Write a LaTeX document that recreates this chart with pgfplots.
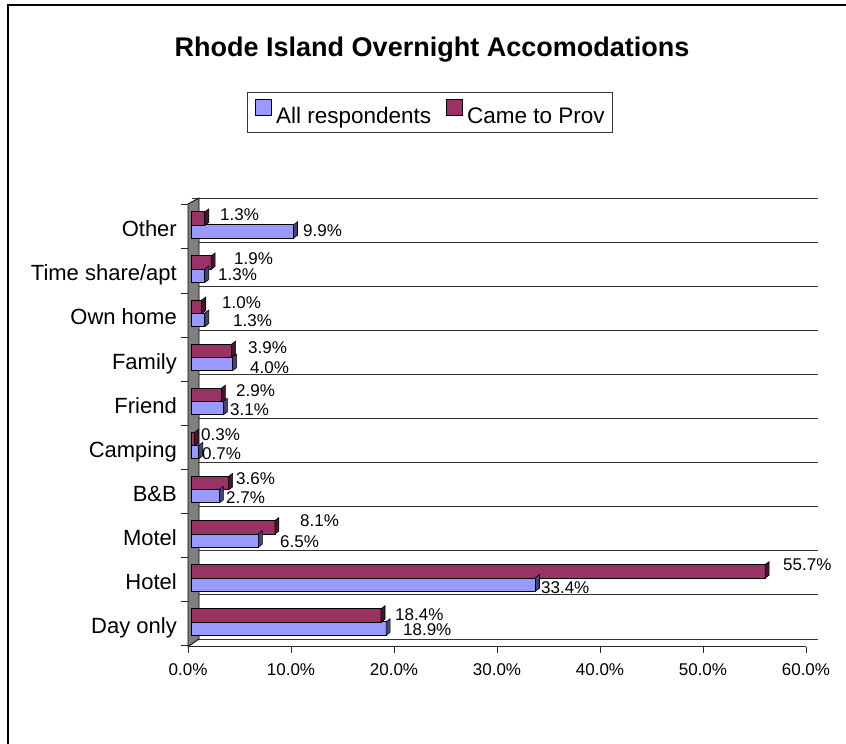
\documentclass[border=0pt]{standalone}
\usepackage{pgfplots}
\pgfplotsset{compat=1.18}
\usepackage{fontspec}
\setmainfont{Liberation Sans}
\definecolor{cblue}{HTML}{9999FF}
\definecolor{cmaroon}{HTML}{993366}
\pgfdeclareplotmark{sideB}{%
  \pgfpathmoveto{\pgfqpoint{0pt}{-18.25pt}}\pgfpathlineto{\pgfqpoint{0pt}{-4.75pt}}%
  \pgfpathlineto{\pgfqpoint{4pt}{-1.75pt}}\pgfpathlineto{\pgfqpoint{4pt}{-15.25pt}}%
  \pgfpathclose\pgfusepathqfillstroke}
\pgfdeclareplotmark{sideM}{%
  \pgfpathmoveto{\pgfqpoint{0pt}{-5.25pt}}\pgfpathlineto{\pgfqpoint{0pt}{8.25pt}}%
  \pgfpathlineto{\pgfqpoint{4pt}{11.25pt}}\pgfpathlineto{\pgfqpoint{4pt}{-2.25pt}}%
  \pgfpathclose\pgfusepathqfillstroke}
\begin{document}
\begin{tikzpicture}
\useasboundingbox (0,0) rectangle (846pt,744pt);
\fill[white] (0,0) rectangle (846pt,744pt);
\draw[line width=2pt] (7.5pt,0) -- (7.5pt,739pt) -- (846pt,739pt);
\node[anchor=base, font=\fontsize{27}{32}\selectfont\bfseries] at (432pt,687pt) {Rhode Island Overnight Accomodations};
\begin{axis}[
  at={(191.5pt,105pt)}, anchor=south west,
  scale only axis, width=626.5pt, height=441pt,
  xmin=0, xmax=60.83, ymin=-0.5, ymax=9.5,
  clip=false,
  axis line style={draw=none},
  xtick={0,10,20,30,40,50,60},
  xticklabels={0.0\%,10.0\%,20.0\%,30.0\%,40.0\%,50.0\%,60.0\%},
  xticklabel style={anchor=base, inner sep=0pt, xshift=-3.5pt, yshift=-37pt, font=\fontsize{17}{20}\selectfont},
  ytick={0,...,9},
  yticklabels={Day only,Hotel,Motel,B\&B,Camping,Friend,Family,Own home,Time share/apt,Other},
  yticklabel style={anchor=base east, inner sep=0pt, xshift=-14.5pt, yshift=-16.7pt, font=\fontsize{22}{26}\selectfont},
  major tick length=0pt,
  minor ytick={-0.5,0.5,...,9.5},
  minor tick length=0pt,
  yminorgrids=true,
  minor grid style={black!80, line width=0.9pt},
  legend style={at={(0.6728,1.2404)}, anchor=north east, draw=black!80, line width=0.8pt,
    inner xsep=8pt, inner ysep=6.5pt, legend columns=2,
    font=\fontsize{22.5}{27}\selectfont,
    nodes={inner sep=0pt, text height=19.5pt, text depth=2.5pt},
    /tikz/every odd column/.style={column sep=4pt},
    /tikz/every even column/.style={column sep=15pt}},
  legend cell align=left,
]
% left wall
\filldraw[fill=black!50, draw=black, line width=0.8pt]
  ([xshift=-3.5pt,yshift=-6pt]axis cs:0,9.5) -- ([xshift=7.5pt]axis cs:0,9.5) --
  ([xshift=7.5pt]axis cs:0,-0.5) -- ([xshift=-3.5pt,yshift=-7.7pt]axis cs:0,-0.5) -- cycle;
% front x axis
\draw[black!85, line width=0.9pt] ([xshift=-3.5pt,yshift=-7.7pt]axis cs:0,-0.5) -- ([xshift=-3.5pt,yshift=-7.7pt]axis cs:60,-0.5);
\pgfplotsinvokeforeach{0,10,20,30,40,50,60}{
  \draw[black!85, line width=0.9pt] ([xshift=-3.5pt,yshift=-7.7pt]axis cs:#1,-0.5) -- ++(0pt,-6.5pt);
}
\pgfplotsinvokeforeach{-0.5,0.5,1.5,2.5,3.5,4.5,5.5,6.5,7.5,8.5,9.5}{
  \draw[black!85, line width=0.9pt] ([xshift=-3.5pt,yshift=-6.8pt]axis cs:0,#1) -- ++(-7pt,0pt);
}
\addplot[xbar, bar width=13.5pt, bar shift=-11.5pt, fill=cblue, draw=black, line width=0.8pt,
  legend image code/.code={\draw[fill=cblue, draw=black, line width=0.8pt] (0pt,0pt) rectangle (16pt,16pt);}]
  coordinates {(18.9,0) (33.4,1) (6.5,2) (2.7,3) (0.7,4) (3.1,5) (4.0,6) (1.3,7) (1.3,8) (9.9,9)};
\addlegendentry{All respondents}
\addplot[xbar, bar width=13.5pt, bar shift=1.5pt, fill=cmaroon, draw=black, line width=0.8pt,
  legend image code/.code={\draw[fill=cmaroon, draw=black, line width=0.8pt] (0pt,0pt) rectangle (16pt,16pt);}]
  coordinates {(18.4,0) (55.7,1) (8.1,2) (3.6,3) (0.3,4) (2.9,5) (3.9,6) (1.0,7) (1.9,8) (1.3,9)};
\addlegendentry{Came to Prov}
% 3D side faces of the bars
\addplot[only marks, forget plot, mark=sideB, mark options={fill=cblue!45!black, draw=black, line width=0.6pt}]
  coordinates {(18.9,0) (33.4,1) (6.5,2) (2.7,3) (0.7,4) (3.1,5) (4.0,6) (1.3,7) (1.3,8) (9.9,9)};
\addplot[only marks, forget plot, mark=sideM, mark options={fill=cmaroon!45!black, draw=black, line width=0.6pt}]
  coordinates {(18.4,0) (55.7,1) (8.1,2) (3.6,3) (0.3,4) (2.9,5) (3.9,6) (1.0,7) (1.9,8) (1.3,9)};
% data labels
\addplot[draw=none, mark=none, forget plot, nodes near coords, point meta=explicit symbolic,
  nodes near coords style={anchor=west, inner sep=0pt, font=\fontsize{17}{20}\selectfont}]
  coordinates {(2.77,9.113)[1.3\%] (4.13,8.136)[1.9\%] (2.96,7.120)[1.0\%] (5.49,6.113)[3.9\%]
    (4.32,5.125)[2.9\%] (0.92,4.125)[0.3\%] (4.32,3.125)[3.6\%] (10.53,2.181)[8.1\%]
    (57.43,1.181)[55.7\%] (19.76,0.045)[18.4\%]};
\addplot[draw=none, mark=none, forget plot, nodes near coords, point meta=explicit symbolic,
  nodes near coords style={anchor=west, inner sep=0pt, font=\fontsize{17}{20}\selectfont}]
  coordinates {(10.83,8.751)[9.9\%] (2.57,7.751)[1.3\%] (4.03,6.728)[1.3\%] (5.68,5.660)[4.0\%]
    (3.74,4.705)[3.1\%] (1.02,3.705)[0.7\%] (3.35,2.705)[2.7\%] (8.59,1.712)[6.5\%]
    (33.93,0.660)[33.4\%] (20.53,-0.295)[18.9\%]};
\end{axis}
\end{tikzpicture}
\end{document}
